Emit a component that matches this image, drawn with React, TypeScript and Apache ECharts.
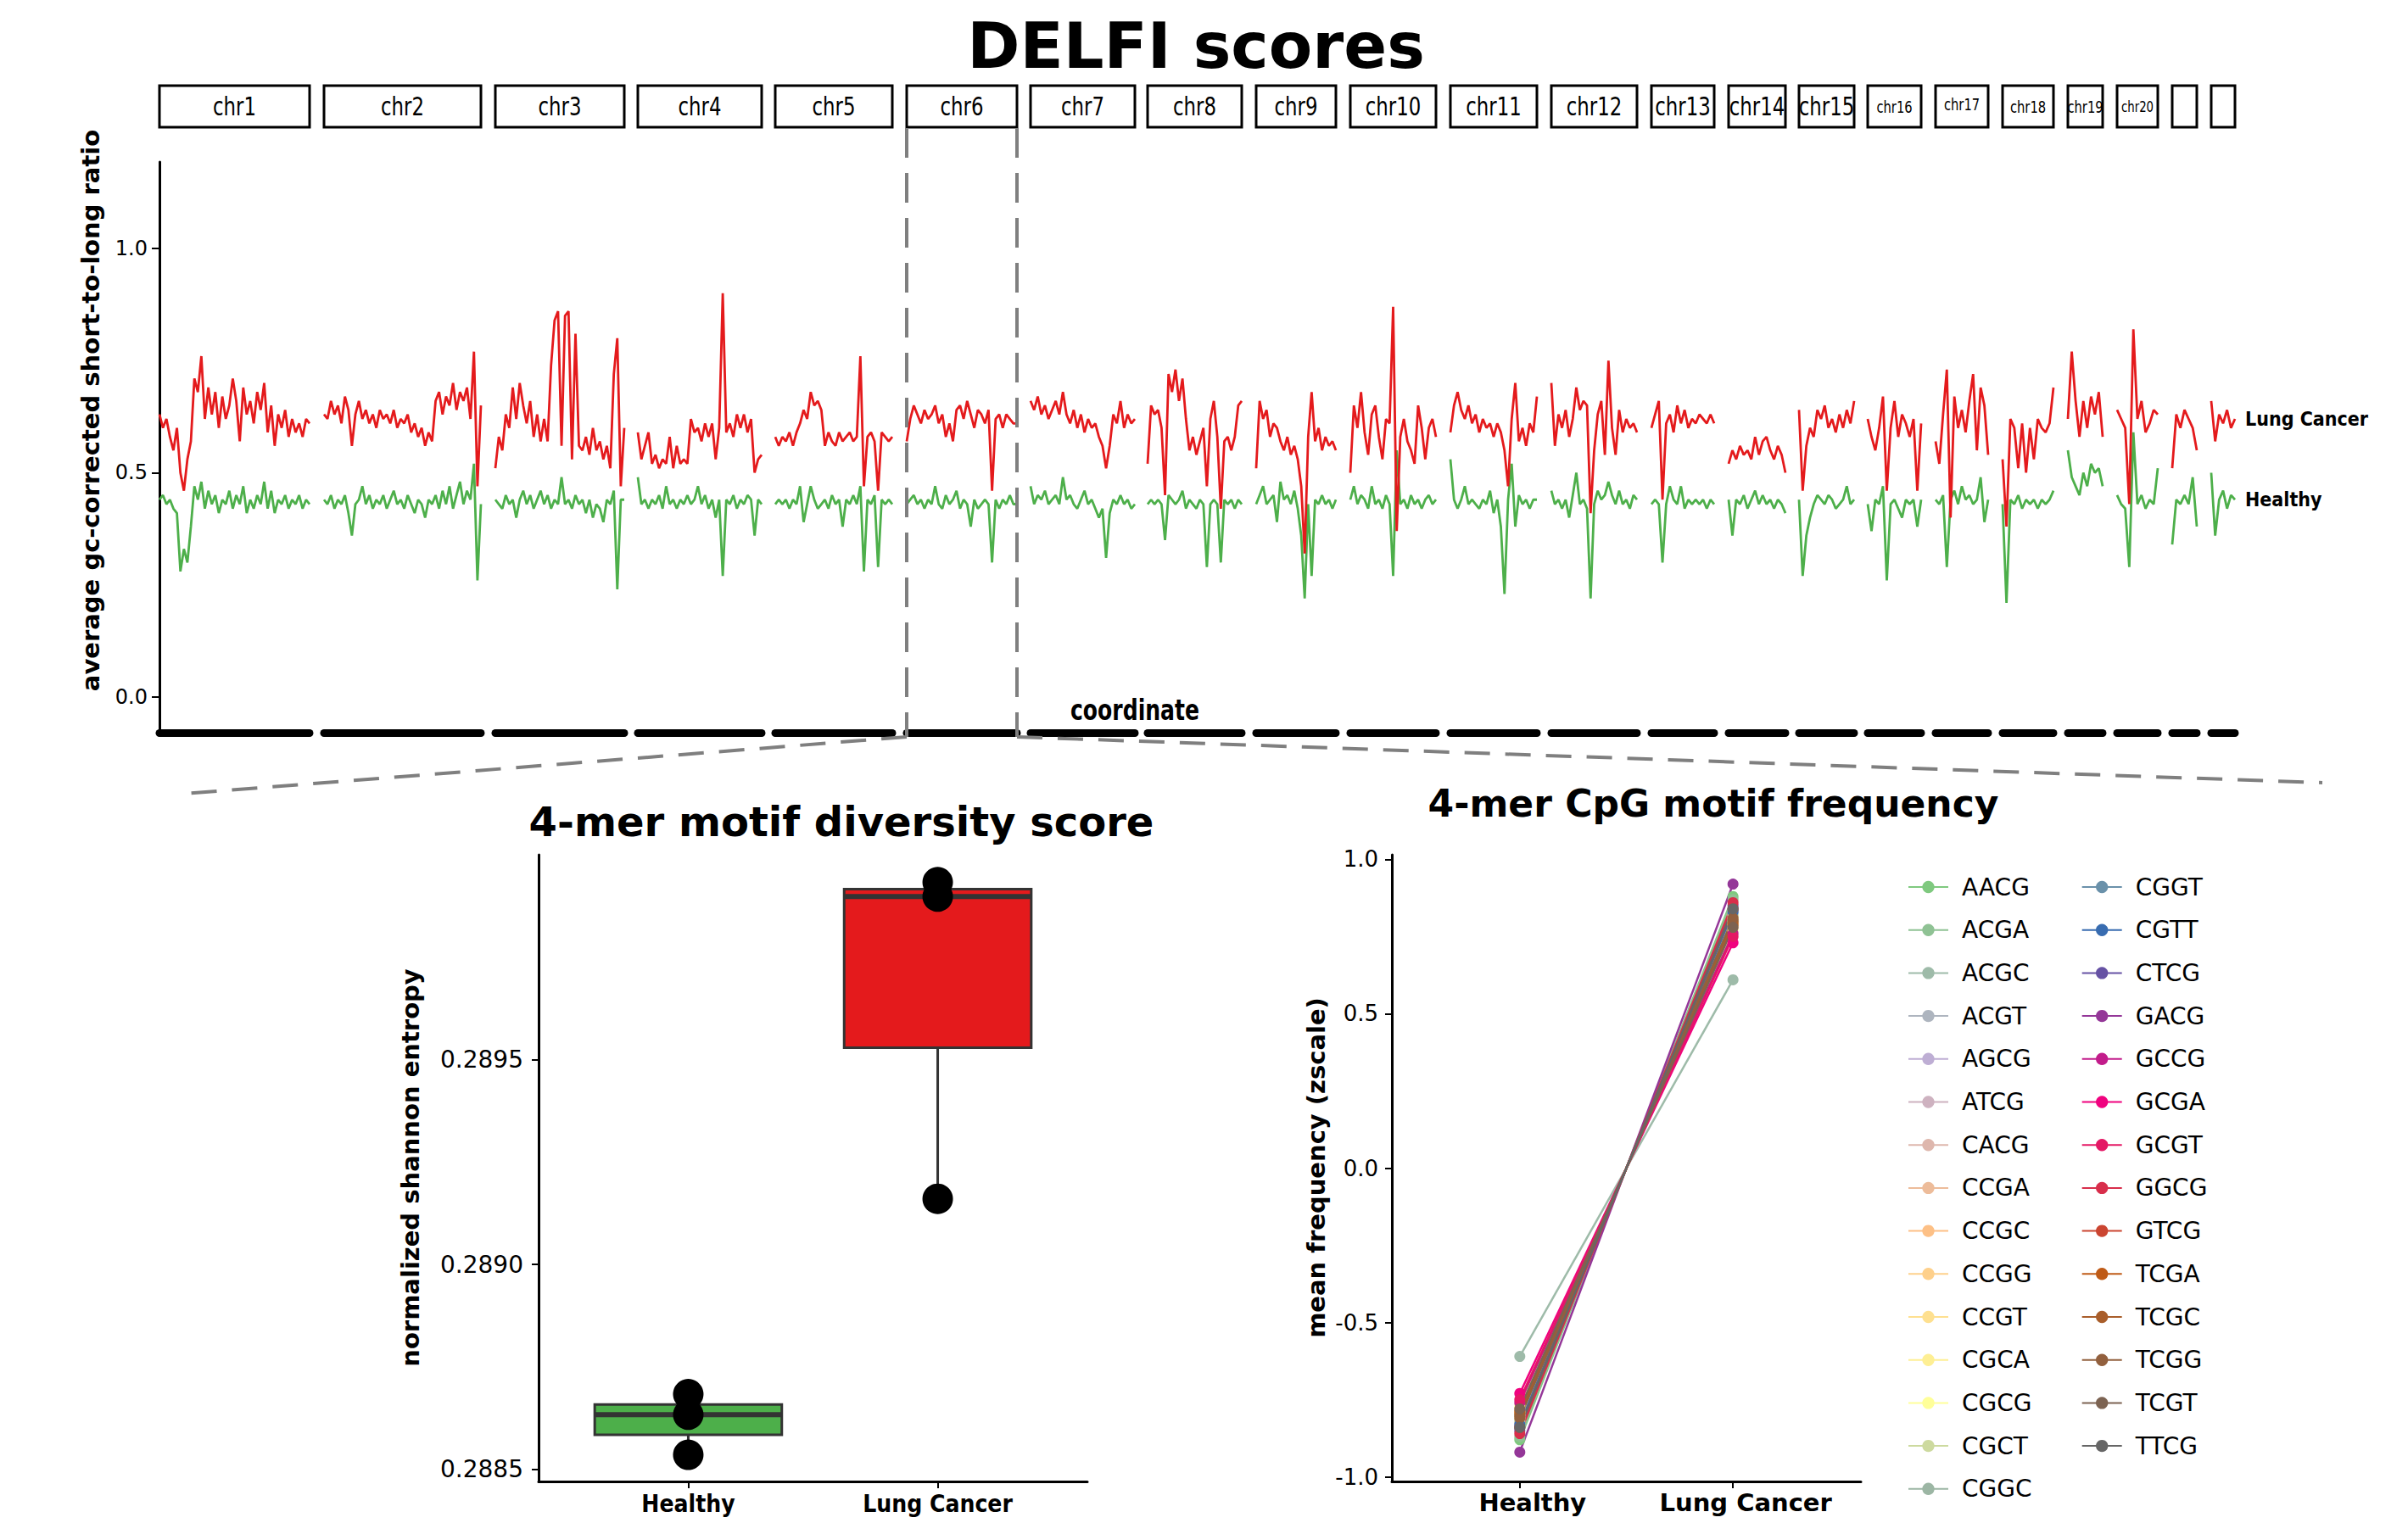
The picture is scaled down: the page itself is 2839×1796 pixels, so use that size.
import React, { useEffect, useRef } from 'react';
import * as echarts from 'echarts';

// ---------------- DATA ----------------
const chromosomes = ['chr1','chr2','chr3','chr4','chr5','chr6','chr7','chr8','chr9','chr10','chr11','chr12','chr13','chr14','chr15','chr16','chr17','chr18','chr19','chr20','chr21','chr22'];

const lung_chr1 = [0.63,0.60,0.62,0.58,0.55,0.60,0.50,0.46,0.53,0.57,0.71,0.68,0.76,0.62,0.69,0.63,0.68,0.60,0.67,0.62,0.65,0.71,0.66,0.57,0.69,0.63,0.66,0.61,0.68,0.64,0.70,0.59,0.65,0.56,0.63,0.60,0.64,0.58,0.62,0.59,0.61,0.58,0.62,0.61];
const healthy_chr1 = [0.44,0.45,0.43,0.44,0.42,0.41,0.28,0.33,0.30,0.38,0.47,0.44,0.48,0.42,0.46,0.43,0.45,0.41,0.44,0.43,0.46,0.42,0.45,0.43,0.47,0.41,0.44,0.42,0.45,0.43,0.48,0.42,0.46,0.41,0.44,0.43,0.45,0.42,0.44,0.43,0.45,0.42,0.44,0.43];
const lung_chr2 = [0.63,0.62,0.66,0.63,0.65,0.61,0.67,0.64,0.56,0.63,0.66,0.62,0.64,0.61,0.63,0.60,0.64,0.62,0.63,0.61,0.64,0.60,0.62,0.61,0.63,0.59,0.61,0.58,0.60,0.56,0.59,0.57,0.66,0.68,0.63,0.67,0.65,0.70,0.64,0.68,0.66,0.69,0.62,0.77,0.47,0.65];
const healthy_chr2 = [0.44,0.43,0.45,0.42,0.44,0.43,0.45,0.41,0.36,0.43,0.44,0.47,0.43,0.45,0.42,0.44,0.43,0.45,0.42,0.44,0.46,0.43,0.44,0.42,0.45,0.43,0.41,0.44,0.43,0.40,0.44,0.43,0.45,0.42,0.46,0.43,0.47,0.42,0.45,0.48,0.43,0.46,0.44,0.52,0.26,0.43];
const lung_chr3 = [0.51,0.58,0.55,0.63,0.60,0.69,0.62,0.70,0.65,0.61,0.66,0.58,0.63,0.57,0.62,0.57,0.74,0.84,0.86,0.56,0.85,0.86,0.53,0.81,0.56,0.55,0.58,0.54,0.60,0.55,0.57,0.53,0.56,0.51,0.72,0.80,0.47,0.60];
const healthy_chr3 = [0.44,0.43,0.42,0.45,0.43,0.44,0.40,0.44,0.46,0.43,0.45,0.42,0.44,0.46,0.43,0.45,0.42,0.44,0.43,0.49,0.43,0.44,0.42,0.45,0.43,0.44,0.41,0.44,0.40,0.43,0.42,0.39,0.44,0.43,0.46,0.24,0.44,0.44];
const lung_chr4 = [0.59,0.53,0.56,0.59,0.52,0.54,0.51,0.53,0.52,0.58,0.51,0.56,0.52,0.53,0.52,0.62,0.59,0.60,0.57,0.61,0.58,0.61,0.53,0.60,0.90,0.59,0.61,0.58,0.63,0.60,0.63,0.59,0.62,0.50,0.53,0.54];
const healthy_chr4 = [0.49,0.43,0.44,0.42,0.44,0.43,0.45,0.42,0.47,0.43,0.44,0.42,0.44,0.43,0.45,0.43,0.44,0.47,0.43,0.45,0.42,0.44,0.40,0.44,0.27,0.44,0.43,0.45,0.42,0.44,0.43,0.45,0.44,0.36,0.44,0.43];
const lung_chr5 = [0.58,0.56,0.58,0.57,0.59,0.56,0.59,0.61,0.64,0.62,0.68,0.65,0.66,0.64,0.56,0.59,0.57,0.56,0.59,0.57,0.58,0.59,0.57,0.58,0.76,0.47,0.58,0.59,0.57,0.46,0.59,0.58,0.57,0.58];
const healthy_chr5 = [0.43,0.44,0.43,0.44,0.42,0.44,0.43,0.47,0.39,0.43,0.47,0.44,0.42,0.43,0.44,0.42,0.45,0.43,0.44,0.38,0.44,0.43,0.45,0.43,0.47,0.28,0.44,0.43,0.45,0.29,0.44,0.43,0.44,0.43];
const lung_chr6 = [0.57,0.62,0.65,0.63,0.61,0.64,0.62,0.63,0.65,0.61,0.63,0.58,0.61,0.57,0.64,0.65,0.62,0.66,0.63,0.60,0.64,0.63,0.61,0.64,0.46,0.62,0.63,0.60,0.63,0.62,0.61,0.61];
const healthy_chr6 = [0.43,0.44,0.45,0.43,0.44,0.42,0.44,0.43,0.47,0.43,0.42,0.45,0.43,0.44,0.46,0.42,0.44,0.43,0.38,0.44,0.42,0.43,0.44,0.43,0.30,0.44,0.42,0.44,0.43,0.45,0.43,0.43];
const lung_chr7 = [0.66,0.64,0.67,0.63,0.65,0.62,0.64,0.66,0.63,0.68,0.63,0.61,0.64,0.60,0.63,0.59,0.62,0.60,0.61,0.58,0.56,0.51,0.56,0.63,0.61,0.66,0.60,0.63,0.61,0.62];
const healthy_chr7 = [0.47,0.43,0.45,0.44,0.46,0.43,0.44,0.45,0.43,0.49,0.44,0.45,0.43,0.42,0.44,0.46,0.43,0.44,0.42,0.40,0.42,0.31,0.41,0.44,0.43,0.45,0.43,0.44,0.42,0.43];
const lung_chr8 = [0.52,0.65,0.63,0.64,0.60,0.45,0.72,0.68,0.73,0.66,0.71,0.62,0.55,0.58,0.54,0.57,0.60,0.47,0.62,0.66,0.58,0.42,0.57,0.58,0.55,0.58,0.65,0.66];
const healthy_chr8 = [0.43,0.44,0.43,0.44,0.43,0.35,0.45,0.44,0.43,0.44,0.46,0.42,0.44,0.43,0.42,0.44,0.43,0.29,0.43,0.44,0.43,0.30,0.44,0.43,0.44,0.42,0.44,0.43];
const lung_chr9 = [0.51,0.66,0.62,0.64,0.58,0.61,0.60,0.57,0.55,0.58,0.54,0.56,0.53,0.47,0.32,0.58,0.68,0.57,0.60,0.55,0.58,0.56,0.57,0.55];
const healthy_chr9 = [0.43,0.45,0.47,0.43,0.44,0.45,0.39,0.48,0.44,0.45,0.43,0.46,0.42,0.36,0.22,0.43,0.27,0.44,0.43,0.45,0.43,0.44,0.42,0.44];
const lung_chr10 = [0.50,0.65,0.60,0.68,0.59,0.54,0.63,0.65,0.58,0.53,0.62,0.61,0.87,0.37,0.58,0.62,0.57,0.55,0.52,0.65,0.60,0.53,0.60,0.62,0.58];
const healthy_chr10 = [0.44,0.47,0.43,0.45,0.44,0.42,0.47,0.43,0.44,0.42,0.45,0.43,0.27,0.55,0.43,0.44,0.42,0.45,0.43,0.44,0.42,0.44,0.45,0.43,0.44];
const lung_chr11 = [0.59,0.65,0.68,0.64,0.62,0.65,0.61,0.63,0.59,0.62,0.60,0.61,0.58,0.61,0.59,0.55,0.47,0.62,0.70,0.57,0.60,0.56,0.61,0.59,0.67];
const healthy_chr11 = [0.53,0.44,0.42,0.44,0.47,0.43,0.44,0.43,0.42,0.44,0.43,0.46,0.41,0.44,0.38,0.23,0.44,0.52,0.38,0.45,0.43,0.44,0.42,0.44,0.44];
const lung_chr12 = [0.70,0.56,0.63,0.60,0.64,0.58,0.62,0.69,0.64,0.66,0.65,0.41,0.55,0.63,0.66,0.54,0.75,0.60,0.54,0.64,0.59,0.62,0.60,0.61,0.59];
const healthy_chr12 = [0.46,0.43,0.44,0.42,0.44,0.40,0.45,0.50,0.43,0.44,0.42,0.22,0.43,0.46,0.44,0.45,0.48,0.45,0.43,0.46,0.43,0.44,0.42,0.45,0.44];
const lung_chr13 = [0.60,0.63,0.66,0.44,0.61,0.63,0.59,0.65,0.61,0.64,0.60,0.62,0.61,0.63,0.62,0.61,0.63,0.61];
const healthy_chr13 = [0.43,0.44,0.43,0.30,0.43,0.47,0.44,0.43,0.47,0.42,0.44,0.43,0.44,0.43,0.44,0.42,0.44,0.43];
const lung_chr14 = [0.52,0.55,0.53,0.56,0.54,0.55,0.53,0.58,0.54,0.57,0.58,0.55,0.53,0.56,0.54,0.50];
const healthy_chr14 = [0.44,0.36,0.44,0.43,0.45,0.42,0.44,0.46,0.43,0.45,0.43,0.44,0.42,0.44,0.43,0.41];
const lung_chr15 = [0.64,0.46,0.56,0.60,0.58,0.64,0.62,0.65,0.60,0.62,0.59,0.63,0.60,0.64,0.61,0.66];
const healthy_chr15 = [0.44,0.27,0.36,0.40,0.43,0.45,0.44,0.43,0.45,0.44,0.42,0.43,0.44,0.47,0.43,0.44];
const lung_chr16 = [0.62,0.58,0.55,0.60,0.67,0.46,0.60,0.66,0.58,0.63,0.61,0.58,0.62,0.46,0.61];
const healthy_chr16 = [0.43,0.37,0.44,0.43,0.47,0.26,0.43,0.44,0.42,0.40,0.44,0.43,0.44,0.38,0.44];
const lung_chr17 = [0.57,0.52,0.63,0.73,0.40,0.67,0.60,0.64,0.59,0.66,0.72,0.55,0.69,0.65,0.54];
const healthy_chr17 = [0.44,0.43,0.45,0.29,0.44,0.46,0.43,0.47,0.44,0.45,0.43,0.44,0.49,0.39,0.44];
const lung_chr18 = [0.53,0.38,0.62,0.60,0.51,0.61,0.50,0.60,0.53,0.62,0.60,0.59,0.61,0.69];
const healthy_chr18 = [0.43,0.21,0.44,0.43,0.45,0.42,0.44,0.43,0.44,0.42,0.44,0.43,0.44,0.46];
const lung_chr19 = [0.62,0.77,0.66,0.58,0.66,0.60,0.67,0.63,0.68,0.58];
const healthy_chr19 = [0.55,0.49,0.47,0.45,0.50,0.47,0.52,0.50,0.51,0.47];
const lung_chr20 = [0.64,0.62,0.60,0.43,0.82,0.62,0.66,0.59,0.61,0.64,0.63];
const healthy_chr20 = [0.45,0.43,0.42,0.29,0.59,0.43,0.45,0.42,0.44,0.43,0.51];
const lung_chr21 = [0.51,0.63,0.60,0.64,0.62,0.60,0.55];
const healthy_chr21 = [0.34,0.44,0.43,0.45,0.43,0.49,0.38];
const lung_chr22 = [0.66,0.57,0.63,0.61,0.64,0.60,0.62];
const healthy_chr22 = [0.50,0.36,0.44,0.46,0.42,0.45,0.44];

const lungByChr = [lung_chr1,lung_chr2,lung_chr3,lung_chr4,lung_chr5,lung_chr6,lung_chr7,lung_chr8,lung_chr9,lung_chr10,lung_chr11,lung_chr12,lung_chr13,lung_chr14,lung_chr15,lung_chr16,lung_chr17,lung_chr18,lung_chr19,lung_chr20,lung_chr21,lung_chr22];
const healthyByChr = [healthy_chr1,healthy_chr2,healthy_chr3,healthy_chr4,healthy_chr5,healthy_chr6,healthy_chr7,healthy_chr8,healthy_chr9,healthy_chr10,healthy_chr11,healthy_chr12,healthy_chr13,healthy_chr14,healthy_chr15,healthy_chr16,healthy_chr17,healthy_chr18,healthy_chr19,healthy_chr20,healthy_chr21,healthy_chr22];

const topTicks = [0, 0.5, 1.0];

// Box plot (4-mer motif diversity score)
const groups = ['Healthy', 'Lung Cancer'];
const boxMin = [0.288535, 0.28916];
const boxQ1 = [0.288584, 0.289529];
const boxMedian = [0.288633, 0.289898];
const boxQ3 = [0.288658, 0.289916];
const boxMax = [0.288683, 0.289933];
const healthyEntropy = [0.288683, 0.288633, 0.288535];
const lungEntropy = [0.289933, 0.289898, 0.28916];
const entropyTicks = [0.2885, 0.2890, 0.2895];

// CpG motif frequency
const motifs = ['AACG','ACGA','ACGC','ACGT','AGCG','ATCG','CACG','CCGA','CCGC','CCGG','CCGT','CGCA','CGCG','CGCT','CGGC','CGGT','CGTT','CTCG','GACG','GCCG','GCGA','GCGT','GGCG','GTCG','TCGA','TCGC','TCGG','TCGT','TTCG'];
const motifHealthy = [-0.88,-0.87,-0.61,-0.82,-0.83,-0.80,-0.81,-0.79,-0.78,-0.80,-0.79,-0.81,-0.77,-0.82,-0.80,-0.84,-0.83,-0.85,-0.92,-0.76,-0.73,-0.75,-0.86,-0.84,-0.79,-0.80,-0.81,-0.78,-0.84];
const motifLung = [0.88,0.87,0.61,0.82,0.83,0.80,0.81,0.79,0.78,0.80,0.79,0.81,0.77,0.82,0.80,0.84,0.83,0.85,0.92,0.76,0.73,0.75,0.86,0.84,0.79,0.80,0.81,0.78,0.84];
const zTicks = [-1.0, -0.5, 0.0, 0.5, 1.0];

// ---------------- STYLE / LAYOUT ----------------
const W = 2839, H = 1796;
const RED = '#E41A1C', GREEN = '#4DAF4A';
const groupColors = [GREEN, RED];
const motifColors = ['#7FC97F','#8FC294','#9EBBA9','#AEB5BF','#BEAED4','#CEB2C0','#DEB7AD','#EDBC9A','#FDC086','#FED08B','#FEE090','#FEEF94','#FFFF99','#CDDA9F','#9CB6A4','#6A91AA','#386CB0','#6652A4','#943798','#C21C8B','#F0027F','#E41865','#D82E4B','#CB4531','#BF5B17','#A95E2B','#92603E','#7C6352','#666666'];
const panelLeft = [188,382,584,752,914,1069,1215,1353,1481,1592,1710,1829,1947,2038,2121,2202,2282,2361,2438,2496,2561,2607];
const panelWidth = [177,185,152,146,138,130,123,111,94,101,102,101,74,67,65,63,62,60,41,48,29,28];
const stripFontSize = [31,31,31,31,31,31,31,31,31,31,31,31,31,31,31,20,20,20,20,18,0,0];
const stripDy = [0,0,0,0,0,0,0,0,0,0,0,0,0,0,0,0,-3,0,0,0,0,0];
const PANEL_TOP = 191, PANEL_BOTTOM = 864;
const STRIP_TOP = 101, STRIP_H = 49;
const TOP_MIN = -0.0794, TOP_MAX = 1.1928;
const ZOOM_CHR = 5;
const COND = "'DejaVu Sans Condensed', 'DejaVu Sans', sans-serif";
const NARROW_SCALE = 0.82;
const WIDE = "'DejaVu Sans', Verdana, sans-serif";

function buildOption() {
  const grid: any[] = [];
  const xAxis: any[] = [];
  const yAxis: any[] = [];
  const series: any[] = [];
  const nChr = chromosomes.length;

  chromosomes.forEach((c, i) => {
    grid.push({ left: panelLeft[i], top: PANEL_TOP, width: panelWidth[i], height: PANEL_BOTTOM - PANEL_TOP });
    const n = lungByChr[i].length;
    xAxis.push({
      type: 'value', gridIndex: i, min: 0, max: n - 1,
      axisLine: { show: true, onZero: false, lineStyle: { color: '#000', width: 9 } },
      axisTick: { show: false }, axisLabel: { show: false }, splitLine: { show: false },
    });
    yAxis.push({
      type: 'value', gridIndex: i, min: TOP_MIN, max: TOP_MAX, show: i === 0,
      axisLine: { show: true, onZero: false, lineStyle: { color: '#000', width: 3 } },
      axisTick: { show: true, length: 9, customValues: topTicks, lineStyle: { color: '#000', width: 2 } },
      axisLabel: { customValues: topTicks, formatter: (v: number) => v.toFixed(1), margin: 14, fontSize: 24, fontFamily: WIDE, color: '#000' },
      splitLine: { show: false },
    });
    const last = i === nChr - 1;
    series.push({
      type: 'line', name: 'Healthy', xAxisIndex: i, yAxisIndex: i,
      data: healthyByChr[i].map((v, k) => [k, v]), showSymbol: false, symbol: 'none',
      lineStyle: { color: GREEN, width: 2.8 }, itemStyle: { color: GREEN }, z: 2, silent: true,
      endLabel: last ? { show: true, formatter: 'Healthy', distance: 12, color: '#000', fontFamily: COND, fontWeight: 'bold', fontSize: 23 } : undefined,
    });
    series.push({
      type: 'line', name: 'Lung Cancer', xAxisIndex: i, yAxisIndex: i,
      data: lungByChr[i].map((v, k) => [k, v]), showSymbol: false, symbol: 'none',
      lineStyle: { color: RED, width: 2.8 }, itemStyle: { color: RED }, z: 3, silent: true,
      endLabel: last ? { show: true, formatter: 'Lung Cancer', distance: 12, color: '#000', fontFamily: COND, fontWeight: 'bold', fontSize: 23 } : undefined,
    });
  });

  // Box plot grid
  const gBox = grid.length;
  grid.push({ left: 635, top: 1008, width: 647, height: 739 });
  xAxis.push({
    type: 'value', gridIndex: gBox, min: 0.4, max: 2.6,
    axisLine: { show: true, onZero: false, lineStyle: { color: '#000', width: 3 } },
    axisTick: { show: true, length: 8, customValues: [1, 2], lineStyle: { color: '#000', width: 2 } },
    axisLabel: { customValues: [1, 2], formatter: (v: number) => groups[Math.round(v) - 1], margin: 12, fontSize: 28, fontWeight: 'bold', fontFamily: COND, color: '#000' },
    splitLine: { show: false },
  });
  yAxis.push({
    type: 'value', gridIndex: gBox, min: 0.28847, max: 0.29,
    axisLine: { show: true, onZero: false, lineStyle: { color: '#000', width: 3 } },
    axisTick: { show: true, length: 8, customValues: entropyTicks, lineStyle: { color: '#000', width: 2 } },
    axisLabel: { customValues: entropyTicks, formatter: (v: number) => v.toFixed(4), margin: 18, fontSize: 28, fontFamily: WIDE, color: '#000' },
    splitLine: { show: false },
  });
  series.push({
    type: 'custom', xAxisIndex: gBox, yAxisIndex: gBox, silent: true,
    data: groups.map((g, i) => [i + 1, boxMin[i], boxQ1[i], boxMedian[i], boxQ3[i], boxMax[i]]),
    encode: { x: 0, y: [1, 2, 3, 4, 5] },
    renderItem: (params: any, api: any) => {
      const x = api.value(0);
      const pMin = api.coord([x, api.value(1)]);
      const pQ1 = api.coord([x, api.value(2)]);
      const pMed = api.coord([x, api.value(3)]);
      const pQ3 = api.coord([x, api.value(4)]);
      const pMax = api.coord([x, api.value(5)]);
      const half = api.size([0.75, 0])[0] / 2;
      const cx = pMed[0];
      const stroke = '#333333';
      return {
        type: 'group',
        children: [
          { type: 'line', shape: { x1: cx, y1: pMax[1], x2: cx, y2: pQ3[1] }, style: { stroke, lineWidth: 3 } },
          { type: 'line', shape: { x1: cx, y1: pQ1[1], x2: cx, y2: pMin[1] }, style: { stroke, lineWidth: 3 } },
          { type: 'rect', shape: { x: cx - half, y: pQ3[1], width: half * 2, height: pQ1[1] - pQ3[1] }, style: { fill: groupColors[params.dataIndex], stroke, lineWidth: 3 } },
          { type: 'line', shape: { x1: cx - half, y1: pMed[1], x2: cx + half, y2: pMed[1] }, style: { stroke, lineWidth: 6 } },
        ],
      };
    },
    z: 2,
  });
  series.push({
    type: 'scatter', xAxisIndex: gBox, yAxisIndex: gBox, silent: true,
    data: [...healthyEntropy.map((v) => [1, v]), ...lungEntropy.map((v) => [2, v])],
    symbolSize: 36, itemStyle: { color: '#000', opacity: 1 }, z: 5,
  });

  // CpG motif grid
  const gZ = grid.length;
  grid.push({ left: 1641, top: 1008, width: 553, height: 739 });
  xAxis.push({
    type: 'value', gridIndex: gZ, min: 0.4, max: 2.6,
    axisLine: { show: true, onZero: false, lineStyle: { color: '#000', width: 3 } },
    axisTick: { show: true, length: 8, customValues: [1, 2], lineStyle: { color: '#000', width: 2 } },
    axisLabel: { customValues: [1, 2], formatter: (v: number) => groups[Math.round(v) - 1], margin: 10, padding: [0, 0, 0, 30], fontSize: 29, fontWeight: 'bold', fontFamily: WIDE, color: '#000' },
    splitLine: { show: false },
  });
  yAxis.push({
    type: 'value', gridIndex: gZ, min: -1.015, max: 1.015,
    axisLine: { show: true, onZero: false, lineStyle: { color: '#000', width: 3 } },
    axisTick: { show: true, length: 8, customValues: zTicks, lineStyle: { color: '#000', width: 2 } },
    axisLabel: { customValues: zTicks, formatter: (v: number) => v.toFixed(1), margin: 16, fontSize: 26, fontFamily: WIDE, color: '#000' },
    splitLine: { show: false },
  });
  motifs.forEach((m, k) => {
    series.push({
      type: 'line', name: m, xAxisIndex: gZ, yAxisIndex: gZ,
      data: [[1, motifHealthy[k]], [2, motifLung[k]]],
      symbol: 'circle', symbolSize: 13, showSymbol: true,
      lineStyle: { color: motifColors[k], width: 2.5 }, itemStyle: { color: motifColors[k] },
      emphasis: { disabled: true }, z: 3,
    });
  });

  // Graphics: titles, strips, zoom guides
  const graphic: any[] = [];
  const txt = (text: string, x: number, y: number, font: string, rotation = 0, scaleX = 1) => ({
    type: 'text', x, y, rotation, scaleX, z: 50, silent: true,
    style: { text, x: 0, y: 0, font, fill: '#000', align: 'center', verticalAlign: 'middle', textAlign: 'center', textVerticalAlign: 'middle' },
  });
  graphic.push(txt('DELFI scores', 1410, 54, `bold 75px ${WIDE}`));
  graphic.push(txt('4-mer motif diversity score', 992, 969, `bold 48px ${WIDE}`));
  graphic.push(txt('4-mer CpG motif frequency', 2020, 947, `bold 44px ${WIDE}`));
  graphic.push(txt('average gc-corrected short-to-long ratio', 107, 484, `bold 29px ${WIDE}`, Math.PI / 2));
  graphic.push(txt('normalized shannon entropy', 484, 1377, `bold 29px ${WIDE}`, Math.PI / 2));
  graphic.push(txt('mean frequency (zscale)', 1552, 1377, `bold 29px ${WIDE}`, Math.PI / 2));
  graphic.push(txt('coordinate', 1338, 837, `bold 34px ${COND}`, 0, NARROW_SCALE));

  chromosomes.forEach((c, i) => {
    graphic.push({
      type: 'rect', z: 40, silent: true,
      shape: { x: panelLeft[i], y: STRIP_TOP, width: panelWidth[i], height: STRIP_H },
      style: { fill: '#fff', stroke: '#000', lineWidth: 3 },
    });
    if (stripFontSize[i] > 0) {
      graphic.push(txt(c, panelLeft[i] + panelWidth[i] / 2, STRIP_TOP + STRIP_H / 2 + stripDy[i], `${stripFontSize[i]}px ${COND}`, 0, NARROW_SCALE));
    }
  });

  const zl = panelLeft[ZOOM_CHR];
  const zr = panelLeft[ZOOM_CHR] + panelWidth[ZOOM_CHR];
  const guide = { stroke: '#7f7f7f', lineWidth: 4, lineDash: [35, 18] };
  const yBot = 869;
  graphic.push({ type: 'line', z: 45, silent: true, shape: { x1: zl, y1: STRIP_TOP + STRIP_H + 1, x2: zl, y2: yBot }, style: guide });
  graphic.push({ type: 'line', z: 45, silent: true, shape: { x1: zr, y1: STRIP_TOP + STRIP_H + 1, x2: zr, y2: yBot }, style: guide });
  graphic.push({ type: 'line', z: 45, silent: true, shape: { x1: zl, y1: yBot, x2: 217, y2: 936 }, style: { ...guide, lineDash: [30, 18] } });
  graphic.push({ type: 'line', z: 45, silent: true, shape: { x1: zr, y1: yBot, x2: 2738, y2: 923 }, style: { ...guide, lineDash: [30, 18] } });

  return {
    animation: false,
    backgroundColor: '#fff',
    grid, xAxis, yAxis, series, graphic,
    legend: {
      data: motifs, orient: 'vertical', left: 2244, top: 1026, height: 760,
      itemWidth: 47, itemHeight: 18, itemGap: 20.7, selectedMode: false,
      textStyle: { fontFamily: WIDE, fontSize: 28, color: '#000', width: 120, padding: [0, 0, 0, 11], lineHeight: 30 },
    },
  };
}

export default function App() {
  const ref = useRef<HTMLDivElement>(null);
  useEffect(() => {
    document.body.style.margin = '0';
    if (!ref.current) return;
    const chart = echarts.init(ref.current, undefined, { renderer: 'svg', width: W, height: H });
    chart.setOption(buildOption() as any);
    return () => chart.dispose();
  }, []);
  return <div ref={ref} style={{ width: W, height: H }} />;
}
